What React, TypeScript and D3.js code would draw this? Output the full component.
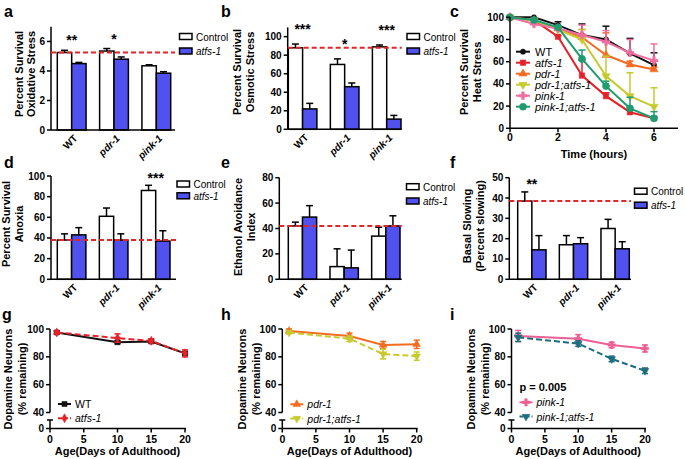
import React from "react";
import * as d3 from "d3";

const W = 685;
const H = 459;
const font = "'Liberation Sans', Arial, Helvetica, sans-serif";

const blue = "#5151ef";
const refRed = "#e0262b";

// bar panels (a, b, d, e, f)
const groups = ["WT", "pdr-1", "pink-1"];
const seriesNames = ["Control", "atfs-1"];

const oxControl = [5.25, 5.35, 4.35];
const oxControlErr = [0.15, 0.17, 0.07];
const oxAtfs = [4.5, 4.8, 3.85];
const oxAtfsErr = [0.08, 0.15, 0.1];
const oxStars = ["**", "*", ""];

const osmControl = [88, 70, 89];
const osmControlErr = [4, 6, 2];
const osmAtfs = [22, 46, 11];
const osmAtfsErr = [6, 4, 4];
const osmStars = ["***", "*", "***"];

const anoxControl = [38, 61, 86];
const anoxControlErr = [6, 8, 5];
const anoxAtfs = [43, 38, 37];
const anoxAtfsErr = [7, 6, 10];
const anoxStars = ["", "", "***"];

const ethControl = [42, 10, 34];
const ethControlErr = [3, 14, 7];
const ethAtfs = [49, 9, 42];
const ethAtfsErr = [9, 14, 8];
const ethStars = ["", "", ""];

const slowControl = [38.5, 17, 25];
const slowControlErr = [4.5, 4.5, 4.5];
const slowAtfs = [14.5, 17.5, 15];
const slowAtfsErr = [7, 3, 3.5];
const slowStars = ["**", "", ""];

// panel c, heat stress
const hours = [0, 1, 2, 3, 4, 5, 6];
const heatWT = [100, 100, 93, 84, 80, 67.5, 57];
const heatWTErr = [0, 0, 3, 10, 12, 13.5, 11];
const heatAtfs = [100, 97.5, 82.5, 47.5, 29, 14.5, 9];
const heatAtfsErr = [0, 0, 1, 14, 3, 2, 1];
const heatPdr = [100, 97, 90, 82, 66, 57.5, 53];
const heatPdrErr = [0, 0, 1, 7, 20, 3, 2];
const heatPdrAtfs = [100, 97, 89, 80, 47, 29, 19.5];
const heatPdrAtfsErr = [0, 0, 1, 9, 18, 21, 17];
const heatPink = [100, 94, 90, 84, 78, 68, 61];
const heatPinkErr = [0, 1, 1, 9, 10, 12, 15];
const heatPinkAtfs = [100, 97.5, 91, 62.5, 38, 18, 9];
const heatPinkAtfsErr = [0, 0, 1, 8, 4.5, 10, 6];

// panels g, h, i, dopamine neurons
const days = [1, 10, 15, 20];
const dopaWT = [97.5, 90.5, 91, 82.5];
const dopaWTErr = [1, 1, 1, 1];
const dopaAtfs = [97.5, 93.5, 91.5, 82.5];
const dopaAtfsErr = [1, 3, 1.5, 2.5];
const dopaPdr = [98.5, 95, 88.5, 89];
const dopaPdrErr = [1.5, 2, 2.5, 3];
const dopaPdrAtfs = [97.5, 93, 82, 80.5];
const dopaPdrAtfsErr = [1, 2, 3.5, 3];
const dopaPink = [95, 93, 88.5, 86];
const dopaPinkErr = [4, 3, 2, 2.5];
const dopaPinkAtfs = [94, 89.5, 78.5, 70];
const dopaPinkAtfsErr = [3, 2, 2, 2];

const symbolTypes: Record<string, d3.SymbolType> = {
  circle: d3.symbolCircle,
  square: d3.symbolSquare,
  triUp: d3.symbolTriangle,
  triDown: d3.symbolTriangle,
  diamond: d3.symbolDiamond,
  plus: d3.symbolCross,
};

const Marker = ({ type, x, y, color, size }) => (
  <path
    d={d3.symbol().type(symbolTypes[type]).size(size)() || ""}
    transform={`translate(${x},${y})${type === "triDown" ? " rotate(180)" : ""}`}
    fill={color}
    stroke={color}
    strokeWidth={0.5}
  />
);

const YLabel = ({ x, gap, cy, lines }) => (
  <g transform={`translate(${x},${cy}) rotate(-90)`}>
    {lines.map((l, i) => (
      <text key={i} y={i * gap} textAnchor="middle" fontSize={11} fontWeight="bold">
        {l}
      </text>
    ))}
  </g>
);

const Letter = ({ x, y, t }) => (
  <text x={x} y={y} fontSize={16} fontWeight="bold">
    {t}
  </text>
);

function BarPanel(p) {
  const y = d3.scaleLinear().domain([0, p.yMax]).range([p.y0, p.yTop]);
  const x = d3.scaleBand().domain(groups).range([p.barStart, p.barEnd]).paddingInner(0.32);
  const inner = d3.scaleBand().domain(seriesNames).range([0, x.bandwidth()]);
  const series = [
    { name: "Control", values: p.control, err: p.controlErr, fill: "#fff" },
    { name: "atfs-1", values: p.atfs, err: p.atfsErr, fill: blue },
  ];
  const ref = y(p.control[0]);
  return (
    <g>
      {series.map((s) =>
        s.values.map((v, i) => {
          const bx = (x(groups[i]) || 0) + (inner(s.name) || 0);
          const cx = bx + inner.bandwidth() / 2;
          return (
            <g key={s.name + i}>
              <line x1={cx} x2={cx} y1={y(v)} y2={y(v + s.err[i])} stroke="#000" strokeWidth={1.5} />
              <line x1={cx - 3.5} x2={cx + 3.5} y1={y(v + s.err[i])} y2={y(v + s.err[i])} stroke="#000" strokeWidth={1.5} />
              <rect x={bx} y={y(v)} width={inner.bandwidth()} height={p.y0 - y(v)} fill={s.fill} stroke="#000" strokeWidth={1.5} />
            </g>
          );
        })
      )}
      <line x1={p.axisX} x2={p.axisX} y1={p.y0} y2={p.yTop} stroke="#000" strokeWidth={1.5} />
      <line x1={p.axisX} x2={p.xEnd} y1={p.y0} y2={p.y0} stroke="#000" strokeWidth={1.5} />
      {p.ticks.map((t) => (
        <g key={t}>
          <line x1={p.axisX - 4} x2={p.axisX} y1={y(t)} y2={y(t)} stroke="#000" strokeWidth={1.5} />
          <text x={p.axisX - 6} y={y(t)} dy="0.35em" textAnchor="end" fontSize={10} fontWeight="bold">
            {t}
          </text>
        </g>
      ))}
      {groups.map((g, i) => {
        const cx = (x(g) || 0) + x.bandwidth() / 2;
        const top = Math.max(p.control[i] + p.controlErr[i], p.atfs[i] + p.atfsErr[i]);
        return (
          <g key={g}>
            <text
              transform={`translate(${cx + 6.5},${p.y0 + 9}) rotate(-45)`}
              textAnchor="end"
              fontSize={10}
              fontWeight="bold"
              fontStyle={g === "WT" ? "normal" : "italic"}
            >
              {g}
            </text>
            {p.stars[i] && (
              <text x={cx} y={y(top) - p.starGap} textAnchor="middle" fontSize={14} fontWeight="bold">
                {p.stars[i]}
              </text>
            )}
          </g>
        );
      })}
      <line x1={p.axisX} x2={p.xEnd} y1={ref} y2={ref} stroke={refRed} strokeWidth={2} strokeDasharray="5,3" />
      {series.map((s, i) => (
        <g key={s.name}>
          <rect x={p.legendX} y={p.legendY + i * p.legendStep} width={12.5} height={6} fill={s.fill} stroke="#000" strokeWidth={1.5} />
          <text
            x={p.legendX + 16.5}
            y={p.legendY + i * p.legendStep + 7}
            fontSize={10}
            fontStyle={i === 1 ? "italic" : "normal"}
          >
            {s.name}
          </text>
        </g>
      ))}
      <YLabel x={p.labelX} gap={12.8} cy={p.labelCy} lines={p.label} />
    </g>
  );
}

function HeatPanel() {
  const x = d3.scaleLinear().domain([0, 7]).range([510, 678]);
  const y = d3.scaleLinear().domain([0, 100]).range([128.3, 17.3]);
  const series = [
    { name: "WT", values: heatWT, err: heatWTErr, color: "#111", sym: "circle", size: 22 },
    { name: "atfs-1", values: heatAtfs, err: heatAtfsErr, color: "#e5222a", sym: "square", size: 30 },
    { name: "pdr-1", values: heatPdr, err: heatPdrErr, color: "#f26c22", sym: "triUp", size: 30 },
    { name: "pdr-1;atfs-1", values: heatPdrAtfs, err: heatPdrAtfsErr, color: "#c7ca2c", sym: "triDown", size: 30 },
    { name: "pink-1", values: heatPink, err: heatPinkErr, color: "#ef6ea0", sym: "plus", size: 34 },
    { name: "pink-1;atfs-1", values: heatPinkAtfs, err: heatPinkAtfsErr, color: "#1e9b6f", sym: "circle", size: 40 },
  ];
  const line = d3
    .line<number>()
    .x((_, i) => x(hours[i]))
    .y((d) => y(d));
  return (
    <g>
      {series.map((s) => (
        <g key={s.name}>
          {s.values.map((v, i) =>
            s.err[i] > 0 ? (
              <g key={i}>
                <line x1={x(hours[i])} x2={x(hours[i])} y1={y(v)} y2={y(v + s.err[i])} stroke={s.color} strokeWidth={1.5} />
                <line x1={x(hours[i]) - 3.5} x2={x(hours[i]) + 3.5} y1={y(v + s.err[i])} y2={y(v + s.err[i])} stroke={s.color} strokeWidth={1.5} />
              </g>
            ) : null
          )}
          <path d={line(s.values) || ""} fill="none" stroke={s.color} strokeWidth={2} />
          {s.values.map((v, i) => (
            <Marker key={i} type={s.sym} x={x(hours[i])} y={y(v)} color={s.color} size={s.size} />
          ))}
        </g>
      ))}
      <line x1={510} x2={510} y1={y(0)} y2={y(100)} stroke="#000" strokeWidth={1.5} />
      <line x1={510} x2={678} y1={y(0)} y2={y(0)} stroke="#000" strokeWidth={1.5} />
      {d3.range(0, 101, 20).map((t) => (
        <g key={t}>
          <line x1={506} x2={510} y1={y(t)} y2={y(t)} stroke="#000" strokeWidth={1.5} />
          <text x={504} y={y(t)} dy="0.35em" textAnchor="end" fontSize={10} fontWeight="bold">
            {t}
          </text>
        </g>
      ))}
      {[0, 2, 4, 6].map((t) => (
        <g key={t}>
          <line x1={x(t)} x2={x(t)} y1={y(0)} y2={y(0) + 4} stroke="#000" strokeWidth={1.5} />
          <text x={x(t)} y={140.5} textAnchor="middle" fontSize={10.5} fontWeight="bold">
            {t}
          </text>
        </g>
      ))}
      <text x={594} y={158} textAnchor="middle" fontSize={11} fontWeight="bold">
        Time (hours)
      </text>
      {series.map((s, i) => {
        const ly = 51.7 + i * 11;
        return (
          <g key={s.name}>
            <line x1={516} x2={530} y1={ly} y2={ly} stroke={s.color} strokeWidth={2} />
            <Marker type={s.sym} x={523} y={ly} color={s.color} size={s.size} />
            <text x={535} y={ly + 4} fontSize={11} fontStyle={i === 0 ? "normal" : "italic"}>
              {s.name}
            </text>
          </g>
        );
      })}
      <YLabel x={468} gap={13} cy={72} lines={["Percent Survival", "Heat Stress"]} />
    </g>
  );
}

function DopaPanel(p) {
  const x = d3.scaleLinear().domain([0, 20]).range([p.axisX, p.x20]);
  const y = d3.scaleLinear().domain([40, 100]).range([412.5, 329]);
  const yLow = d3.scaleLinear().domain([0, 5]).range([428.5, 420]);
  const line = d3
    .line<number>()
    .x((_, i) => x(days[i]))
    .y((d) => y(d));
  return (
    <g>
      {p.series.map((s) => (
        <g key={s.name}>
          <path d={line(s.values) || ""} fill="none" stroke={s.color} strokeWidth={2} strokeDasharray={s.dash ? "6,3" : undefined} />
          {s.values.map((v, i) => {
            const cx = x(days[i]);
            return (
              <g key={i}>
                <line x1={cx} x2={cx} y1={y(v - s.err[i])} y2={y(v + s.err[i])} stroke={s.color} strokeWidth={1.5} />
                <line x1={cx - 3} x2={cx + 3} y1={y(v + s.err[i])} y2={y(v + s.err[i])} stroke={s.color} strokeWidth={1.5} />
                <line x1={cx - 3} x2={cx + 3} y1={y(v - s.err[i])} y2={y(v - s.err[i])} stroke={s.color} strokeWidth={1.5} />
                <Marker type={s.sym} x={cx} y={y(v)} color={s.color} size={s.size} />
              </g>
            );
          })}
        </g>
      ))}
      <line x1={p.axisX} x2={p.axisX} y1={y(40)} y2={y(100)} stroke="#000" strokeWidth={1.5} />
      <line x1={p.axisX} x2={p.axisX} y1={yLow(0)} y2={yLow(5)} stroke="#000" strokeWidth={1.5} />
      <line x1={p.axisX - 3} x2={p.axisX + 3} y1={yLow(5)} y2={yLow(5)} stroke="#000" strokeWidth={1.5} />
      <line x1={p.axisX} x2={x(20) + 1} y1={yLow(0)} y2={yLow(0)} stroke="#000" strokeWidth={1.5} />
      {[40, 60, 80, 100].map((t) => (
        <g key={t}>
          <line x1={p.axisX - 4} x2={p.axisX} y1={y(t)} y2={y(t)} stroke="#000" strokeWidth={1.5} />
          <text x={p.axisX - 6} y={y(t)} dy="0.35em" textAnchor="end" fontSize={10} fontWeight="bold">
            {t}
          </text>
        </g>
      ))}
      <line x1={p.axisX - 4} x2={p.axisX} y1={yLow(0)} y2={yLow(0)} stroke="#000" strokeWidth={1.5} />
      <text x={p.axisX - 6} y={yLow(0)} dy="0.35em" textAnchor="end" fontSize={10} fontWeight="bold">
        0
      </text>
      {[0, 5, 10, 15, 20].map((t) => (
        <g key={t}>
          <line x1={x(t)} x2={x(t)} y1={yLow(0)} y2={yLow(0) + 4} stroke="#000" strokeWidth={1.5} />
          <text x={x(t)} y={443} textAnchor="middle" fontSize={10.5} fontWeight="bold">
            {t}
          </text>
        </g>
      ))}
      <text x={(p.axisX + p.x20) / 2} y={455} textAnchor="middle" fontSize={11} fontWeight="bold">
        Age(Days of Adulthood)
      </text>
      {p.pText && (
        <text x={p.axisX + 8} y={391} fontSize={11} fontWeight="bold">
          {p.pText}
        </text>
      )}
      {p.series.map((s, i) => {
        const ly = p.legendY + i * 14.3;
        return (
          <g key={s.name}>
            <line
              x1={p.axisX + 8}
              x2={p.axisX + 21}
              y1={ly}
              y2={ly}
              stroke={s.color}
              strokeWidth={2}
              strokeDasharray={s.dash ? "4,2" : undefined}
            />
            <Marker type={s.sym} x={p.axisX + 14.5} y={ly} color={s.color} size={s.size} />
            <text x={p.axisX + 25} y={ly + 4} fontSize={10.5} fontStyle={s.name === "WT" ? "normal" : "italic"}>
              {s.name}
            </text>
          </g>
        );
      })}
      <YLabel x={p.labelX} gap={13.5} cy={379} lines={["Dopamine Neurons", "(% remaining)"]} />
    </g>
  );
}

export default function App() {
  return (
    <svg
      width={W}
      height={H}
      style={{ position: "absolute", left: 0, top: 0, background: "#fff" }}
      fontFamily={font}
    >
      <rect width={W} height={H} fill="#fff" />
      <Letter x={4} y={17} t="a" />
      <Letter x={221} y={17} t="b" />
      <Letter x={450} y={17} t="c" />
      <Letter x={4} y={168} t="d" />
      <Letter x={221} y={168} t="e" />
      <Letter x={450} y={168} t="f" />
      <Letter x={2} y={320} t="g" />
      <Letter x={221} y={320} t="h" />
      <Letter x={450} y={320} t="i" />

      <BarPanel
        axisX={51} xEnd={175} barStart={57.3} barEnd={170.7} y0={130} yTop={26.7} yMax={7} ticks={[0, 2, 4, 6]}
        control={oxControl} controlErr={oxControlErr} atfs={oxAtfs} atfsErr={oxAtfsErr}
        stars={oxStars} starGap={5} legendX={179.5} legendY={33.5} legendStep={14.5}
        label={["Percent Survival", "Oxidative Stress"]} labelX={22.7} labelCy={74}
      />
      <BarPanel
        axisX={287.7} xEnd={401.7} barStart={288.3} barEnd={401} y0={129.3} yTop={27.4} yMax={110}
        ticks={[0, 20, 40, 60, 80, 100]}
        control={osmControl} controlErr={osmControlErr} atfs={osmAtfs} atfsErr={osmAtfsErr}
        stars={osmStars} starGap={10} legendX={407} legendY={33.5} legendStep={14.5}
        label={["Percent Survival", "Osmotic Stress"]} labelX={241} labelCy={72}
      />
      <HeatPanel />
      <BarPanel
        axisX={51} xEnd={176} barStart={57.3} barEnd={170} y0={279.3} yTop={176} yMax={100}
        ticks={[0, 20, 40, 60, 80, 100]}
        control={anoxControl} controlErr={anoxControlErr} atfs={anoxAtfs} atfsErr={anoxAtfsErr}
        stars={anoxStars} starGap={2} legendX={177} legendY={181} legendStep={11.8}
        label={["Percent Survival", "Anoxia"]} labelX={10} labelCy={224}
      />
      <BarPanel
        axisX={279.3} xEnd={401.7} barStart={288.3} barEnd={400} y0={279.3} yTop={177.7} yMax={80}
        ticks={[0, 20, 40, 60, 80]}
        control={ethControl} controlErr={ethControlErr} atfs={ethAtfs} atfsErr={ethAtfsErr}
        stars={ethStars} starGap={3} legendX={406.5} legendY={183.7} legendStep={14.3}
        label={["Ethanol Avoidance", "Index"]} labelX={242.3} labelCy={227}
      />
      <BarPanel
        axisX={509.3} xEnd={631} barStart={517.7} barEnd={629.3} y0={279.3} yTop={177.7} yMax={50}
        ticks={[0, 10, 20, 30, 40, 50]}
        control={slowControl} controlErr={slowControlErr} atfs={slowAtfs} atfsErr={slowAtfsErr}
        stars={slowStars} starGap={2.5} legendX={634.5} legendY={188.2} legendStep={14}
        label={["Basal Slowing", "(Percent slowing)"]} labelX={471} labelCy={226}
      />
      <DopaPanel
        axisX={50} x20={185} legendY={404} labelX={12}
        series={[
          { name: "WT", values: dopaWT, err: dopaWTErr, color: "#111", sym: "square", size: 26, dash: false },
          { name: "atfs-1", values: dopaAtfs, err: dopaAtfsErr, color: "#e5222a", sym: "diamond", size: 24, dash: true },
        ]}
      />
      <DopaPanel
        axisX={282.3} x20={416.7} legendY={404.3} labelX={246}
        series={[
          { name: "pdr-1", values: dopaPdr, err: dopaPdrErr, color: "#f26c22", sym: "triUp", size: 26, dash: false },
          { name: "pdr-1;atfs-1", values: dopaPdrAtfs, err: dopaPdrAtfsErr, color: "#c7ca2c", sym: "triDown", size: 26, dash: true },
        ]}
      />
      <DopaPanel
        axisX={511.5} x20={645} legendY={402.3} labelX={475} pText="p = 0.005"
        series={[
          { name: "pink-1", values: dopaPink, err: dopaPinkErr, color: "#ec5f95", sym: "plus", size: 30, dash: false },
          { name: "pink-1;atfs-1", values: dopaPinkAtfs, err: dopaPinkAtfsErr, color: "#1d6d7e", sym: "triDown", size: 26, dash: true },
        ]}
      />
    </svg>
  );
}
